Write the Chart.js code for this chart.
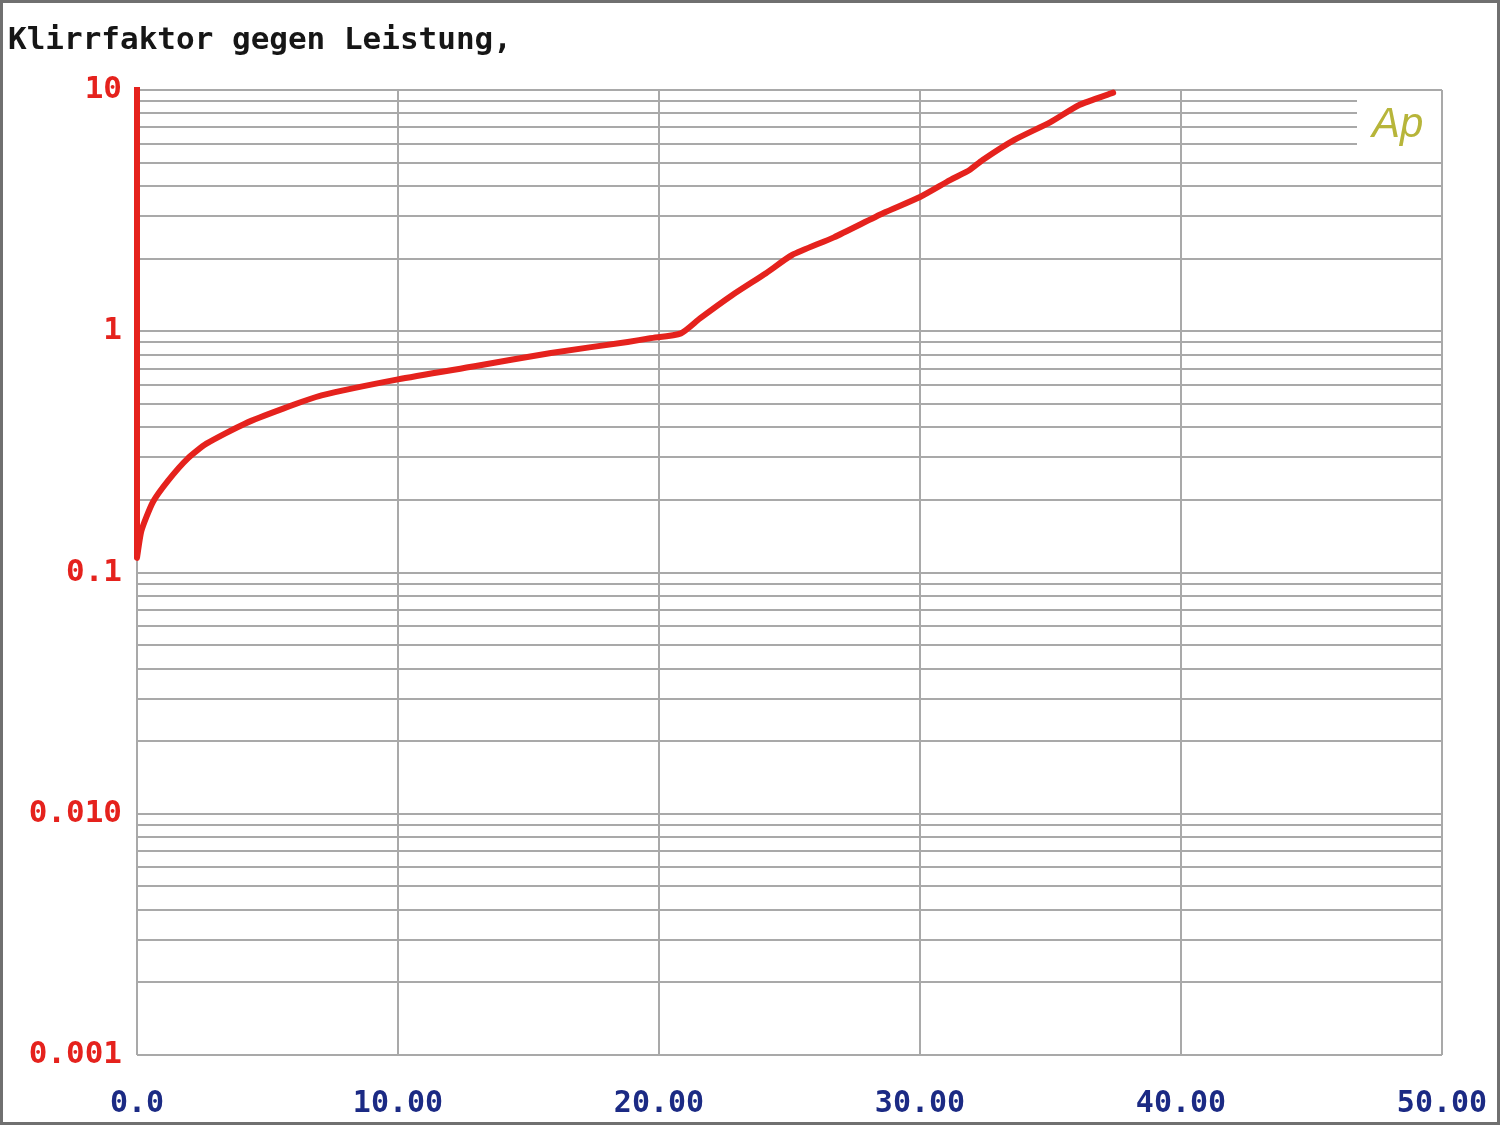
<!DOCTYPE html>
<html>
<head>
<meta charset="utf-8">
<script src="https://cdn.jsdelivr.net/npm/chart.js@4/dist/chart.umd.min.js"></script>
<style>
  body { margin: 0; background: #fff; }
  #wrap { position: relative; width: 1500px; height: 1125px; }
  #frame { position: absolute; left: 0; top: 0; width: 1500px; height: 1125px; box-sizing: border-box; border: 3px solid #707070; pointer-events: none; }
</style>
</head>
<body>
<div id="wrap">
  <canvas id="thd" width="1500" height="1125"></canvas>
  <div id="frame"></div>
</div>
<script>
// Klirrfaktor (%) gegen Leistung (W)
var powerW = [0, 0.17, 0.61, 1.2, 1.93, 2.66, 4.13, 5.6, 7.07, 10.0, 12.93, 15.86, 18.8, 19.66, 20.84,
  21.57, 22.8, 24.1, 25.1, 26.7, 28.6, 30.0, 31.15, 31.9, 32.4, 33.6, 35.0, 36.1, 37.4];
var thdPct = [0.115, 0.149, 0.196, 0.241, 0.296, 0.342, 0.414, 0.478, 0.542, 0.632, 0.716, 0.813, 0.903, 0.935, 0.98,
  1.13, 1.41, 1.74, 2.07, 2.45, 3.09, 3.6, 4.23, 4.66, 5.13, 6.2, 7.36, 8.67, 9.75];

// start of sweep: drop from full scale at 0 W
var startX = [0, 0];
var startY = [10.3, 0.115];

var yTickValues = [0.001, 0.01, 0.1, 1, 10];
var yTickLabels = ["0.001", "0.010", "0.1", "1", "10"];
var xTickValues = [0, 10, 20, 30, 40, 50];
var xTickLabels = ["0.0", "10.00", "20.00", "30.00", "40.00", "50.00"];

var titleText = "Klirrfaktor gegen Leistung,";
var red = "#e5221d";
var gridGray = "#a9a9a9";

function toPoints(xs, ys) {
  return xs.map(function (x, i) { return { x: x, y: ys[i] }; });
}

var extras = {
  id: "extras",
  beforeDatasetsDraw: function (chart) {
    var ctx = chart.ctx;
    var a = chart.chartArea;
    ctx.save();
    // Ap logo box cuts the top grid lines
    ctx.fillStyle = "#fff";
    ctx.fillRect(a.right - 85, a.top + 4, 84, 60);
    ctx.fillStyle = "#b7b53a";
    ctx.font = "italic 42px 'Liberation Sans'";
    ctx.textBaseline = "alphabetic";
    ctx.fillText("Ap", a.right - 70, a.top + 47);
    ctx.restore();
  },
  afterDraw: function (chart) {
    var ctx = chart.ctx;
    ctx.save();
    ctx.fillStyle = "#161616";
    ctx.font = "bold 31px 'DejaVu Sans Mono'";
    ctx.textBaseline = "alphabetic";
    ctx.fillText(titleText, 8, 49);
    ctx.restore();
  }
};

var chart = new Chart(document.getElementById("thd").getContext("2d"), {
  type: "line",
  data: {
    datasets: [
      {
        data: toPoints(startX, startY),
        borderColor: red,
        borderWidth: 6,
        pointRadius: 0,
        tension: 0,
        clip: 10,
      },
      {
        data: toPoints(powerW, thdPct),
        borderColor: red,
        borderWidth: 6,
        borderCapStyle: "round",
        borderJoinStyle: "round",
        pointRadius: 0,
        tension: 0.2,
        clip: 10,
      },
    ],
  },
  options: {
    responsive: false,
    animation: false,
    devicePixelRatio: 1,
    layout: { padding: { left: 0, top: 90, right: 58, bottom: 0 } },
    plugins: { legend: { display: false }, tooltip: { enabled: false } },
    scales: {
      x: {
        type: "linear",
        min: 0,
        max: 50,
        afterBuildTicks: function (scale) {
          scale.ticks = xTickValues.map(function (v) { return { value: v }; });
        },
        afterFit: function (scale) {
          scale.height = 70;
          scale.paddingLeft = 0;
          scale.paddingRight = 0;
        },
        grid: { color: gridGray, lineWidth: 2, drawTicks: false },
        border: { display: false },
        ticks: {
          autoSkip: false,
          maxRotation: 0,
          padding: 31,
          color: "#1b2a84",
          font: { family: "DejaVu Sans Mono", size: 30, weight: "bold" },
          callback: function (value) {
            var i = xTickValues.indexOf(value);
            return i >= 0 ? xTickLabels[i] : "";
          },
        },
      },
      y: {
        type: "logarithmic",
        min: 0.001,
        max: 10,
        afterBuildTicks: function (scale) {
          var t = [];
          for (var e = -3; e < 1; e++) {
            for (var m = 1; m < 10; m++) {
              t.push({ value: m * Math.pow(10, e) });
            }
          }
          t.push({ value: 10 });
          scale.ticks = t;
        },
        afterFit: function (scale) {
          scale.width = 137;
          scale.paddingTop = 0;
          scale.paddingBottom = 0;
        },
        grid: { color: gridGray, lineWidth: 2, drawTicks: false },
        border: { display: false },
        ticks: {
          autoSkip: false,
          padding: 15,
          color: red,
          font: { family: "DejaVu Sans Mono", size: 31, weight: "bold" },
          callback: function (value) {
            for (var i = 0; i < yTickValues.length; i++) {
              if (Math.abs(value - yTickValues[i]) / yTickValues[i] < 1e-6) return yTickLabels[i];
            }
            return "";
          },
        },
      },
    },
  },
  plugins: [extras],
});
</script>
</body>
</html>
